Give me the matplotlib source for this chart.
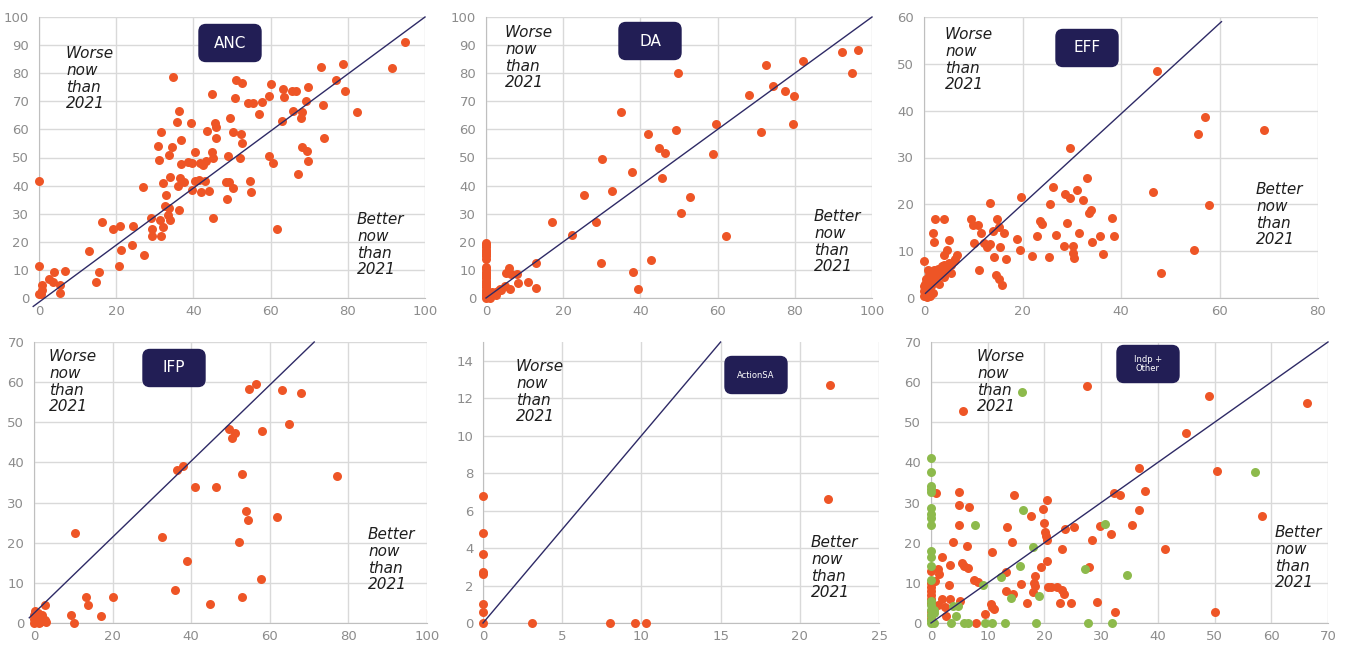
import numpy as np
import matplotlib.pyplot as plt
from matplotlib.patches import FancyBboxPatch
from matplotlib.transforms import IdentityTransform

plt.rcParams['font.family'] = ['DejaVu Sans']

ORANGE = "#EE5526"
GREEN = "#8DBA4C"
NAVY = "#221E55"
GRID = "#D9D9D9"
TICK = "#8C8C8C"

# ---- data (2021 share on x, now on y) ----
anc_x = [94.7, 78.8, 73.0, 91.5, 34.8, 51.1, 52.7, 60.2, 76.9, 79.2, 63.1, 65.6, 66.6, 69.8, 44.9, 50.8,
         63.5, 59.5, 54.2, 55.4, 57.9, 69.1, 73.7, 82.5, 36.2, 65.8, 68.2, 57.0, 49.5, 67.9, 35.8, 39.3,
         62.9, 45.7, 45.8, 31.6, 43.4, 50.3, 52.4, 45.9, 73.9, 36.7, 30.9, 34.5, 52.7, 68.2, 69.5, 40.3,
         44.8, 33.6, 49.0, 59.6, 45.1, 52.1, 31.2, 38.7, 39.6, 41.6, 43.3, 36.9, 42.4, 60.7, 69.6, 67.2,
         33.9, 36.4, 37.5, 40.3, 41.4, 43.0, 32.1, 48.4, 49.1, 54.6, 36.1, 26.9, 50.3, 39.6, 42.0, 44.0,
         54.8, 33.0, 48.8, 32.6, 33.8, 36.2, 45.1, 28.9, 31.3, 33.5, 33.9, 16.4, 20.9, 24.4, 19.2, 29.4,
         32.1, 61.7, 29.4, 31.6, 24.0, 21.2, 12.9, 27.1, 20.8, 0.0, 0.0, 15.6, 6.8, 3.9, 2.5, 3.5,
         0.9, 5.5, 14.7, 5.4, 0.9, 0.0, 0.6]
anc_y = [91.0, 83.3, 82.1, 81.9, 78.8, 77.5, 76.4, 76.1, 77.5, 73.5, 74.5, 73.5, 73.5, 75.0, 72.6, 71.2,
         71.4, 72.0, 69.4, 69.4, 69.8, 70.1, 68.8, 66.2, 66.7, 66.7, 66.1, 65.5, 64.0, 63.9, 62.7, 62.4,
         63.0, 62.1, 60.9, 59.0, 59.4, 59.2, 58.3, 57.1, 57.1, 56.4, 54.0, 53.9, 55.0, 53.6, 52.3, 52.1,
         51.9, 50.9, 50.5, 50.7, 50.0, 50.0, 49.2, 48.3, 48.1, 48.1, 48.9, 47.6, 47.3, 48.1, 48.7, 44.2,
         43.2, 42.8, 41.4, 41.6, 42.1, 41.8, 40.8, 41.4, 41.2, 41.6, 39.8, 39.5, 39.2, 38.4, 37.8, 38.0,
         37.7, 36.7, 35.1, 32.6, 32.1, 31.2, 28.3, 28.4, 27.7, 29.4, 27.7, 27.0, 25.6, 25.6, 24.4, 24.4,
         25.1, 24.5, 22.0, 22.0, 19.0, 17.1, 16.6, 15.4, 11.5, 41.5, 11.3, 9.2, 9.5, 9.1, 6.6, 5.7,
         4.5, 4.7, 5.6, 1.7, 2.8, 1.4, 1.3]

da_x = [96.3, 92.1, 94.7, 82.2, 72.5, 49.7, 74.4, 77.5, 79.7, 68.2, 34.9, 59.5, 79.6, 71.3, 42.0, 49.2,
        44.9, 46.5, 58.8, 30.0, 37.7, 45.7, 25.4, 52.9, 32.6, 50.6, 17.1, 28.5, 22.3, 62.1, 12.9, 29.7,
        42.7, 38.2, 39.5, 8.4, 11.0, 12.9, 6.0, 5.3, 8.0, 6.6, 6.3, 4.8, 3.5, 2.7, 1.8,
        0, 0, 0, 0, 0, 0, 0, 0, 0, 0, 0, 0, 0, 0, 0, 0, 0, 0, 0, 0, 0, 0, 0,
        1.0, 1.5, 2.0, 0.5, 1.0, 3.0, 4.0, 2.5]
da_y = [88.2, 87.6, 80.0, 84.5, 82.8, 80.0, 75.6, 73.5, 72.0, 72.4, 66.2, 62.0, 61.8, 58.9, 58.2, 59.8,
        53.3, 51.5, 51.2, 49.6, 44.9, 42.6, 36.7, 36.0, 38.1, 30.3, 27.1, 27.1, 22.5, 21.9, 12.3, 12.4,
        13.5, 9.1, 3.3, 5.2, 5.6, 3.7, 10.5, 8.8, 8.4, 8.4, 3.1, 4.4, 3.2, 2.0, 1.4,
        19.6, 18.8, 18.0, 17.2, 16.4, 15.6, 14.8, 14.0, 11.0, 10.2, 9.4, 8.6, 7.8, 7.0, 6.2, 5.4,
        4.6, 3.8, 3.0, 2.2, 1.4, 0.6, 0.0,
        1.0, 2.0, 1.5, 0.5, 0.0, 2.5, 3.0, 1.0]

eff_x = [47.3, 57.0, 55.6, 69.1, 29.7, 33.0, 26.1, 46.5, 31.0, 28.7, 29.7, 32.2, 19.7, 13.5, 25.6, 57.8,
         33.9, 33.6, 38.1, 2.3, 4.0, 9.5, 14.9, 23.6, 23.9, 29.1, 10.0, 10.9, 15.3, 14.1, 1.8, 11.5,
         16.2, 31.5, 22.9, 26.9, 35.8, 38.5, 5.0, 2.1, 18.9, 10.2, 12.2, 13.3, 12.8, 34.1, 28.5, 30.2,
         15.4, 19.5, 4.7, 30.2, 36.4, 54.8, 4.0, 6.8, 22.0, 25.4, 14.2, 30.5, 16.6, 6.2, 0.0, 3.6,
         2.9, 0.9, 5.5, 11.2, 14.6, 15.3, 15.8, 48.2,
         0.0, 0.3, 0.5, 0.8, 1.0, 1.2, 0.0, 0.5, 1.5, 2.0, 2.5, 3.0, 3.5, 4.0, 4.5, 5.0,
         1.0, 2.0, 0.2, 1.8, 0.6, 3.0, 4.0, 5.5, 0.1, 2.2, 3.8, 6.0, 1.3]
eff_y = [48.4, 38.6, 35.0, 35.9, 32.0, 25.7, 23.7, 22.6, 23.0, 22.2, 21.4, 21.0, 21.5, 20.3, 20.0, 19.9,
         18.7, 18.2, 17.0, 16.8, 16.8, 16.8, 16.8, 16.4, 15.7, 16.0, 15.5, 15.5, 15.2, 14.4, 13.8, 13.8,
         13.8, 13.9, 13.2, 13.4, 13.3, 13.3, 12.4, 11.9, 12.6, 11.8, 11.7, 11.5, 10.9, 11.9, 11.1, 11.1,
         10.9, 10.2, 10.2, 9.7, 9.5, 10.2, 9.2, 9.1, 8.9, 8.8, 8.8, 8.5, 8.4, 8.4, 8.0, 6.9,
         6.2, 5.9, 5.4, 5.9, 5.0, 4.1, 2.8, 5.4,
         0.5, 1.0, 2.0, 3.0, 1.5, 0.5, 2.5, 4.0, 2.5, 3.5, 4.5, 5.5, 6.0, 7.0, 6.5, 7.5,
         5.0, 6.0, 3.0, 1.0, 0.2, 3.0, 4.5, 7.0, 1.5, 5.2, 5.8, 8.0, 3.8]

ifp_x = [56.6, 54.6, 63.1, 67.9, 64.8, 49.7, 51.1, 58.0, 50.3, 36.3, 37.9, 53.0, 77.2, 41.0, 46.2, 53.9,
         54.4, 61.9, 10.4, 32.5, 52.2, 39.0, 57.8, 35.8, 13.2, 20.1, 53.0, 13.8, 44.9, 2.9, 9.3, 17.1,
         10.2,
         0.0, 0.5, 1.0, 1.5, 2.0, 2.5, 3.0, 0.0, 0.3, 1.0, 2.0, 0.8, 1.2, 0.0, 2.8, 0.5]
ifp_y = [59.6, 58.3, 58.1, 57.3, 49.6, 48.3, 47.3, 47.9, 46.0, 38.0, 39.1, 37.0, 36.5, 34.0, 33.9, 28.0,
         25.7, 26.5, 22.3, 21.5, 20.1, 15.4, 10.9, 8.2, 6.4, 6.4, 6.4, 4.6, 4.7, 4.4, 1.9, 1.7,
         0.1,
         0.0, 0.5, 1.0, 0.3, 1.5, 0.5, 0.3, 2.0, 3.0, 2.5, 2.0, 0.2, 0.0, 1.0, 0.8, 1.5]

asa_x = [21.9, 21.8, 0, 0, 0, 0, 0, 0, 0, 0, 3.1, 8.0, 9.6, 10.3]
asa_y = [12.7, 6.6, 6.8, 4.8, 3.7, 2.7, 2.6, 1.0, 0.6, 0.0, 0.0, 0.0, 0.0, 0.0]

ind_x = [27.5, 49.0, 66.3, 44.9, 36.7, 50.4, 0.8, 4.9, 14.6, 20.5, 37.8, 32.3, 33.3, 4.9, 6.7, 19.8,
         36.7, 17.7, 19.9, 58.3, 4.9, 13.4, 23.7, 25.3, 29.8, 35.5, 20.1, 20.2, 20.5, 31.8, 14.2, 3.9,
         28.4, 6.3, 23.1, 41.2, 10.8, 1.9, 5.4, 5.9, 6.6, 3.4, 20.4, 1.2, 1.4, 19.4, 27.8, 13.2,
         7.5, 8.3, 18.3, 18.2, 18.3, 0.7, 3.1, 15.9, 20.6, 21.1, 22.3, 23.1, 23.5, 13.3, 14.4, 17.9,
         1.9, 3.3, 5.2, 16.9, 22.8, 24.7, 29.2, 10.5, 10.8, 11.1, 1.2, 2.4, 9.5, 2.7, 32.4, 50.1,
         8.0, 5.6, 0, 0, 0, 0, 0, 0, 0, 0, 0, 0]
ind_y = [59.1, 56.6, 54.7, 47.3, 38.6, 37.9, 32.5, 32.6, 32.0, 30.6, 33.0, 32.3, 31.9, 29.3, 28.8, 28.4,
         28.1, 26.7, 24.9, 26.7, 24.3, 23.9, 23.4, 24.0, 24.1, 24.4, 22.6, 21.6, 20.8, 22.2, 20.2, 20.2,
         20.8, 19.1, 18.4, 18.4, 17.6, 16.5, 14.9, 14.3, 13.7, 14.5, 15.5, 13.4, 12.2, 14.0, 13.9, 12.6,
         10.6, 10.2, 11.6, 10.0, 9.1, 10.4, 9.5, 9.6, 8.9, 8.9, 8.9, 8.2, 7.2, 7.9, 7.3, 7.8,
         6.1, 6.0, 5.6, 4.9, 4.9, 5.0, 5.3, 4.8, 4.0, 3.6, 4.6, 4.0, 2.2, 1.8, 2.8, 2.8,
         0.0, 52.7, 13.0, 10.0, 9.0, 8.0, 7.0, 6.0, 5.0, 3.0, 2.0, 1.0]
ind_gx = [57.1, 0, 0, 0, 0, 0, 0, 0, 0, 0, 0, 0, 0, 0, 0, 0, 0, 0, 0, 0,
          7.8, 16.3, 18.0, 30.6, 27.1, 15.7, 12.4, 9.2, 19.1, 14.1, 34.5, 4.4, 4.7, 3.8, 0.6, 0.6,
          3.6, 5.8, 6.5, 9.5, 10.8, 13.1, 18.5, 27.7, 32.0, 0.6, 16.1]
ind_gy = [37.5, 41.1, 37.5, 34.1, 33.4, 32.7, 28.7, 27.2, 26.2, 24.3, 17.9, 16.4, 14.1, 10.8, 5.4, 4.6,
          3.3, 2.1, 0.8, 0.0,
          24.3, 28.1, 18.9, 24.7, 13.4, 14.3, 11.4, 9.5, 6.7, 6.3, 12.0, 1.8, 4.2, 4.2, 3.3, 2.5,
          0.0, 0.0, 0.0, 0.0, 0.0, 0.0, 0.0, 0.0, 0.0, 0.0, 57.6]

# reference lines (start / end)
anc_line = ([-1.5, 100], [-3, 100])
da_line = ([0, 100], [0, 100])
eff_line = ([0.3, 60.4], [1.0, 59.0])
ifp_line = ([-1.2, 71.3], [1.3, 70.0])
asa_line = ([0, 15], [0, 15])
ind_line = ([0, 70], [0, 70])

fig = plt.figure(figsize=(13.45, 6.46), dpi=100)
W, H = 1345, 646


def make_ax(l, r, t, b, xmax, xstep, ymax, ystep, ytop=None):
    ax = fig.add_axes([l / W, 1 - b / H, (r - l) / W, (b - t) / H])
    ax.set_xlim(0, xmax)
    ax.set_ylim(0, ytop if ytop else ymax)
    ax.set_xticks(np.arange(0, xmax + 0.1, xstep))
    ax.set_yticks(np.arange(0, ymax + 0.1, ystep))
    ax.grid(True, color=GRID, lw=1)
    ax.set_axisbelow(True)
    for s in ["top", "right"]:
        ax.spines[s].set_visible(False)
    for s in ["left", "bottom"]:
        ax.spines[s].set_color("#BFBFBF")
    ax.tick_params(length=0, labelsize=9.5, labelcolor=TICK)
    ax.tick_params(axis="y", pad=7)
    ax.tick_params(axis="x", pad=5)
    return ax


def label_box(cx, cy, text, fs):
    w, h = 62, 37
    box = FancyBboxPatch((cx - w / 2, H - cy - h / 2), w, h,
                         boxstyle="round,pad=0,rounding_size=7",
                         fc=NAVY, ec=NAVY, transform=IdentityTransform())
    fig.patches.append(box)
    fig.text(cx / W, 1 - cy / H, text, color="white", fontsize=fs,
             ha="center", va="center", linespacing=1.0)


def notes(wx, wy, bx, by):
    fig.text(wx / W, 1 - wy / H, "Worse\nnow\nthan\n2021", style="italic",
             fontsize=11, va="top", color="#1E1E1E", linespacing=1.15)
    fig.text(bx / W, 1 - by / H, "Better\nnow\nthan\n2021", style="italic",
             fontsize=11, va="top", color="#1E1E1E", linespacing=1.15)


def dots(ax, x, y, c):
    ax.scatter(x, y, s=42, color=c, lw=0, zorder=3, clip_on=False)


def diag(ax, line):
    ax.plot(line[0], line[1], color="#2E2A66", lw=1, zorder=4, clip_on=False)


# ANC
ax = make_ax(39, 425, 17, 298, 100, 20, 100, 10)
diag(ax, anc_line)
dots(ax, anc_x, anc_y, ORANGE)
label_box(230, 43, "ANC", 11)
notes(66, 46, 357, 212)

# DA
ax = make_ax(486, 872, 17, 298, 100, 20, 100, 10)
diag(ax, da_line)
dots(ax, da_x, da_y, ORANGE)
label_box(650, 41, "DA", 11)
notes(505, 25, 814, 209)

# EFF
ax = make_ax(924, 1318, 17, 298, 80, 20, 60, 10)
diag(ax, eff_line)
dots(ax, eff_x, eff_y, ORANGE)
label_box(1087, 48, "EFF", 11)
notes(945, 27, 1256, 182)

# IFP
ax = make_ax(34, 427, 342, 623, 100, 20, 70, 10)
diag(ax, ifp_line)
dots(ax, ifp_x, ifp_y, ORANGE)
label_box(174, 368, "IFP", 11)
notes(49, 349, 368, 527)

# ActionSA
ax = make_ax(483, 879, 342, 623, 25, 5, 14, 2, ytop=15)
diag(ax, asa_line)
dots(ax, asa_x, asa_y, ORANGE)
label_box(756, 375, "ActionSA", 6)
notes(516, 359, 811, 535)

# Indp + Other
ax = make_ax(931, 1328, 342, 623, 70, 10, 70, 10)
diag(ax, ind_line)
dots(ax, ind_x, ind_y, ORANGE)
dots(ax, ind_gx, ind_gy, GREEN)
label_box(1148, 364, "Indp +\nOther", 6)
notes(977, 349, 1275, 525)

fig.savefig("out.png", dpi=100)
